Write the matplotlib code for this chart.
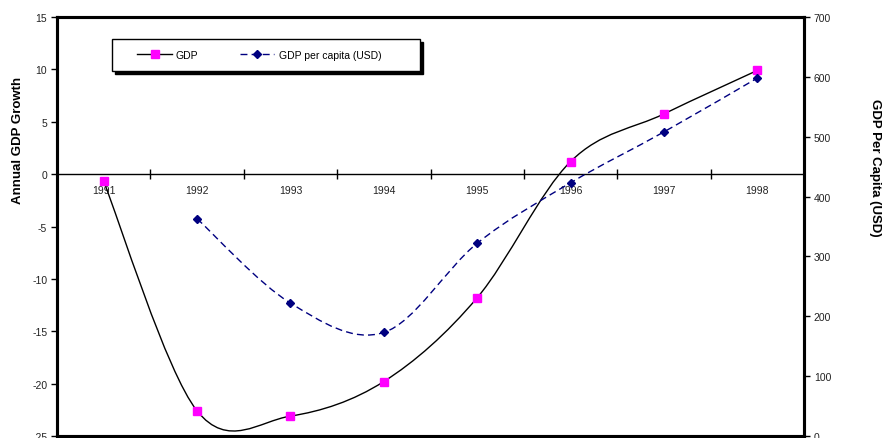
import numpy as np
import matplotlib
matplotlib.use('Agg')
import matplotlib.pyplot as plt
from matplotlib.path import Path
from matplotlib.patches import PathPatch, Rectangle
from matplotlib.lines import Line2D

plt.rcParams['font.family'] = ['Liberation Sans', 'DejaVu Sans']
plt.rcParams['axes.unicode_minus'] = False

years = ['1991', '1992', '1993', '1994', '1995', '1996', '1997', '1998']
gdp_growth = [-0.7, -22.6, -23.1, -19.8, -11.8, 1.2, 5.75, 9.9]
pc_years = ['1992', '1993', '1994', '1995', '1996', '1997', '1998']
gdp_per_capita = [363, 222, 173, 322, 423, 508, 598]


def smooth_path(xs, ys):
    # excel-like smoothed line: bezier segments through every point
    p = np.column_stack([xs, ys]).astype(float)
    ext = np.vstack([p[0], p, p[-1]])
    verts = [p[0]]
    codes = [Path.MOVETO]
    for i in range(len(p) - 1):
        a, b, c, d = ext[i], ext[i + 1], ext[i + 2], ext[i + 3]
        verts += [b + (c - a) / 6, c - (d - b) / 6, c]
        codes += [Path.CURVE4] * 3
    return Path(verts, codes)


x_gdp = [years.index(y) for y in years]
x_pc = [years.index(y) for y in pc_years]

fig = plt.figure(figsize=(8.85, 4.39), dpi=100)
ax = fig.add_axes([57 / 885, 1 - 437 / 439, 747 / 885, 419 / 439])
ax2 = ax.twinx()

ax.set_xlim(-0.5, 7.5)
ax.set_ylim(-25, 15)
ax.set_yticks(range(-25, 16, 5))
ax2.set_ylim(0, 700)
ax2.set_yticks(range(0, 701, 100))

# GDP growth (left axis)
ax.add_patch(PathPatch(smooth_path(x_gdp, gdp_growth), fill=False,
                       edgecolor='black', linewidth=1.0, zorder=3))
ax.plot(x_gdp, gdp_growth, linestyle='none', marker='s', markersize=6,
        color='#FF00FF', zorder=4)

# GDP per capita (right axis)
ax2.add_patch(PathPatch(smooth_path(x_pc, gdp_per_capita), fill=False,
                        edgecolor='#000080', linewidth=1.0,
                        linestyle=(0, (5, 3)), zorder=3))
ax2.plot(x_pc, gdp_per_capita, linestyle='none', marker='D', markersize=4,
         color='#000080', zorder=4)

# category axis crossing at zero
ax.axhline(0, color='black', linewidth=1.0, zorder=2)
ax.set_xticks([])
sec = ax.secondary_xaxis(25 / 40)
sec.spines['bottom'].set_visible(False)
sec.spines['top'].set_visible(False)
sec.set_xticks(np.arange(0.5, 7.5, 1.0))
sec.set_xticks(range(len(years)), minor=True)
sec.set_xticklabels([])
sec.set_xticklabels(years, minor=True)
sec.xaxis.set_ticks_position('bottom')
sec.xaxis.set_label_position('bottom')
sec.tick_params(which='both', bottom=True, top=False,
                labelbottom=True, labeltop=False)
sec.tick_params(which='major', direction='inout', length=7, width=1, color='black')
sec.tick_params(which='minor', length=0, pad=8, labelsize=7.5, labelcolor='#222222')

for a in (ax, ax2):
    for s in a.spines.values():
        s.set_linewidth(2.2)
        s.set_color('black')

ax.tick_params(axis='y', direction='out', length=4, width=1, labelsize=7.5,
               labelcolor='#222222', pad=3)
ax2.tick_params(axis='y', direction='out', length=4, width=1, labelsize=7.5,
                labelcolor='#222222', pad=3)

fig.text(18 / 885, 1 - 140 / 439, 'Annual GDP Growth', rotation=90,
         ha='center', va='center', fontsize=9.5, fontweight='bold')
fig.text(875 / 885, 1 - 168 / 439, 'GDP Per Capita (USD)', rotation=270,
         ha='center', va='center', fontsize=9.5, fontweight='bold')

# legend box with shadow
bx0, bx1 = (112 - 57) / 747, (420 - 57) / 747
by0, by1 = (437 - 72) / 419, (437 - 40) / 419
ax2.add_patch(Rectangle((bx0 + 3 / 747, by0 - 3 / 419), bx1 - bx0, by1 - by0,
                        transform=ax2.transAxes, facecolor='black',
                        edgecolor='black', zorder=5, clip_on=False))
ax2.add_patch(Rectangle((bx0, by0), bx1 - bx0, by1 - by0,
                        transform=ax2.transAxes, facecolor='white',
                        edgecolor='black', linewidth=1.0, zorder=6, clip_on=False))
handles = [
    Line2D([], [], color='black', linewidth=1.0, marker='s', markersize=6,
           markerfacecolor='#FF00FF', markeredgecolor='#FF00FF'),
    Line2D([], [], color='#000080', linewidth=1.0, linestyle=(0, (5, 3)),
           marker='D', markersize=4),
]
leg = ax2.legend(handles, ['GDP', 'GDP per capita (USD)'], ncol=2,
                 frameon=False, fontsize=7.5, handlelength=3.3,
                 handletextpad=0.4, columnspacing=4.0,
                 loc='center left',
                 bbox_to_anchor=((128 - 57) / 747, (by0 + by1) / 2))
leg.set_zorder(7)

fig.savefig('out.png', dpi=100)
